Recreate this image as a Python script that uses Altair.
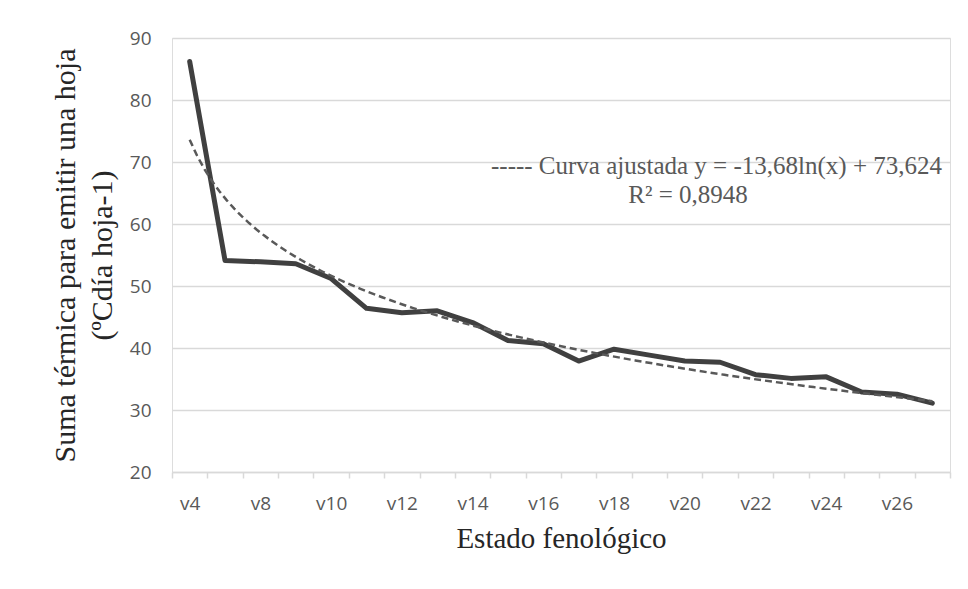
import altair as alt
import pandas as pd

stages = ["v4", "v6", "v8", "v9", "v10", "v11", "v12", "v13", "v14", "v15", "v16",
          "v17", "v18", "v19", "v20", "v21", "v22", "v23", "v24", "v25", "v26", "v27"]
values = [86.2, 54.1, 53.9, 53.6, 51.2, 46.4, 45.7, 46.0, 44.1, 41.2, 40.7,
          37.9, 39.8, 38.85, 37.9, 37.7, 35.7, 35.1, 35.35, 32.9, 32.55, 31.1]
shown_labels = ["v4", "v8", "v10", "v12", "v14", "v16", "v18", "v20", "v22", "v24", "v26"]
legend_line1 = "----- Curva ajustada y = -13,68ln(x) + 73,624"
legend_line2 = "R² = 0,8948"

df = pd.DataFrame({"stage": stages, "value": values, "i": list(range(1, len(stages) + 1))})

W, H = 778, 434
n = len(stages)

label_expr = "indexof(" + str(shown_labels) + ", datum.value) >= 0 ? datum.value : ''"

base_y = alt.Y("value:Q", scale=alt.Scale(domain=[20, 90], nice=False, zero=False),
               axis=alt.Axis(values=list(range(20, 91, 10)), grid=True, gridColor="#d9d9d9",
                             gridWidth=1.5, domain=False, ticks=False, labelFont="Open Sans",
                             labelFontSize=19, labelColor="#595959", labelPadding=21,
                             title=["Suma térmica para emitir una hoja", "(ºCdía hoja-1)"],
                             titleFont="Liberation Serif", titleFontSize=30,
                             titleFontWeight="normal", titleColor="#262626",
                             titlePadding=12, titleLineHeight=37))

line = alt.Chart(df).mark_line(color="#404040", strokeWidth=5, strokeCap="round",
                               strokeJoin="round").encode(
    x=alt.X("stage:N", sort=stages,
            scale=alt.Scale(paddingInner=0, paddingOuter=0),
            axis=alt.Axis(labelExpr=label_expr, labelAngle=0, labelFont="Open Sans",
                          labelFontSize=19, labelColor="#595959", labelPadding=16,
                          labelOverlap=False, tickBand="extent", tickColor="#d9d9d9",
                          tickWidth=1.5, tickSize=6, domainColor="#d9d9d9", domainWidth=1.5,
                          grid=False, title="Estado fenológico", titleFont="Liberation Serif",
                          titleFontSize=29, titleFontWeight="normal", titleColor="#262626",
                          titlePadding=11)),
    y=base_y,
)

trend = alt.Chart(df).transform_regression("i", "value", method="log").mark_line(
    color="#595959", strokeWidth=2.5, strokeDash=[7, 4]).encode(
    x=alt.X("i:Q", scale=alt.Scale(domain=[0.5, n + 0.5], nice=False, zero=False), axis=None),
    y=alt.Y("value:Q"),
)

txt1 = alt.Chart(pd.DataFrame({"t": [legend_line1]})).mark_text(
    font="Liberation Serif", fontSize=25, color="#595959", align="right", baseline="alphabetic"
).encode(text="t:N", x=alt.value(770), y=alt.value(136))
txt2 = alt.Chart(pd.DataFrame({"t": [legend_line2]})).mark_text(
    font="Liberation Serif", fontSize=25, color="#595959", align="center", baseline="alphabetic"
).encode(text="t:N", x=alt.value(516), y=alt.value(165))

chart = alt.layer(line, trend, txt1, txt2).resolve_scale(x="independent").properties(
    width=W, height=H,
    autosize=alt.AutoSizeParams(type="none"),
    padding={"left": 164, "top": 30, "right": 10, "bottom": 105},
).configure_view(stroke=None).configure(background="white")

chart.save("out.html", embed_options={"renderer": "svg", "actions": False})
